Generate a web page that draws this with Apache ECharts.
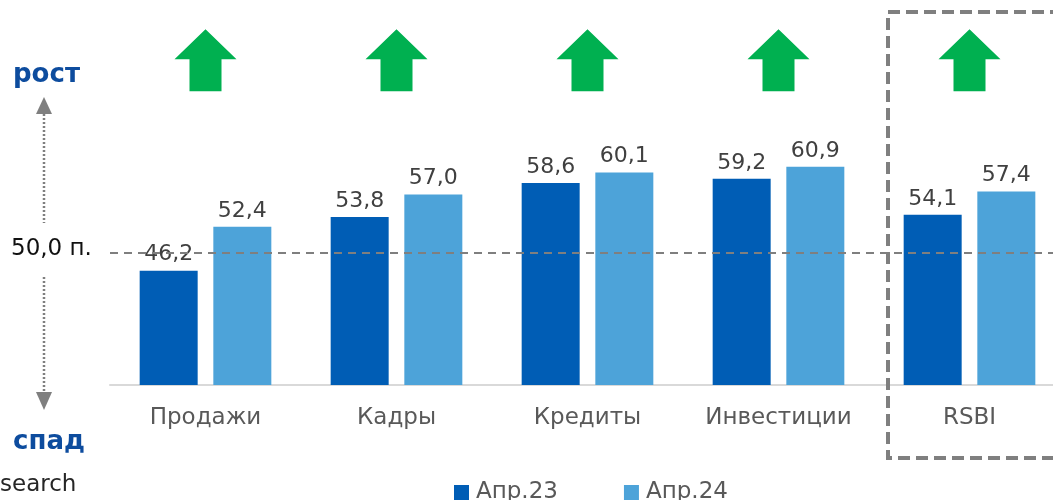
<!DOCTYPE html>
<html>
<head>
<meta charset="utf-8">
<script src="https://cdn.jsdelivr.net/npm/echarts@6/dist/echarts.min.js"></script>
<style>
  html, body { margin: 0; padding: 0; background: #fff; overflow: hidden; }
  /* slightly wider than the window: the picture's last group is cut at the right edge */
  #chart { width: 1065px; height: 500px; }
</style>
</head>
<body>
<div id="chart"></div>
<script>
// RSBI sub-indices, two survey waves
const categories = ["Продажи", "Кадры", "Кредиты", "Инвестиции", "RSBI"];
const seriesNames = ["Апр.23", "Апр.24"];
const apr23 = [46.2, 53.8, 58.6, 59.2, 54.1];
const apr24 = [52.4, 57.0, 60.1, 60.9, 57.4];
// green "growth" arrows above each group (drawn at a fixed level on the value axis)
const arrowLevel = [76, 76, 76, 76, 76];
// threshold line as it sits on the picture (labelled "50,0 п.")
const thresholdLine = 48.8;

const FONT = "DejaVu Sans";
const DARK = "#005DB5";
const LIGHT = "#4DA3D9";
const GREY = "#7f7f7f";
const BLUE_TXT = "#0D4C9E";

const fmt = v => v.toFixed(1).replace(".", ",");

const chart = echarts.init(document.getElementById("chart"), null, { renderer: "canvas" });

const labelStyle = {
    show: true,
    position: "top",
    distance: 5,
    fontFamily: FONT,
    fontSize: 22,
    color: "#404040",
    formatter: p => fmt(p.value)
};

const arrowPath = "path://M31 0 L62 30 L47 30 L47 62 L15 62 L15 30 L0 30 Z";

chart.setOption({
    animation: false,
    backgroundColor: "#fff",
    grid: { left: 110, right: 0, top: 32, bottom: 115, containLabel: false },
    legend: {
        data: seriesNames,
        left: 449,
        top: 476,
        icon: "rect",
        itemWidth: 15,
        itemHeight: 15,
        itemGap: 66,
        textStyle: { fontFamily: FONT, fontSize: 23, color: "#595959", padding: [0, 0, 0, 2] }
    },
    xAxis: {
        type: "category",
        data: categories,
        axisLine: { show: true, lineStyle: { color: "#d9d9d9", width: 2 } },
        axisTick: { show: false },
        axisLabel: { interval: 0, fontFamily: FONT, fontSize: 23, color: "#595959", margin: 22 }
    },
    yAxis: {
        type: "value",
        min: 30,
        max: 80,
        show: false,
        splitLine: { show: false }
    },
    series: [
        {
            name: seriesNames[0],
            type: "bar",
            data: apr23,
            barWidth: 58,
            barGap: "27%",
            itemStyle: { color: DARK },
            label: labelStyle,
            z: 2,
            markLine: {
                silent: true,
                symbol: "none",
                z: 5,
                label: { show: false },
                lineStyle: { color: GREY, width: 2, type: [8, 6] },
                data: [{ yAxis: thresholdLine }]
            }
        },
        {
            name: seriesNames[1],
            type: "bar",
            data: apr24,
            barWidth: 58,
            itemStyle: { color: LIGHT },
            label: labelStyle,
            z: 2
        },
        {
            name: "arrows",
            type: "scatter",
            data: arrowLevel,
            symbol: arrowPath,
            symbolSize: [62, 62],
            itemStyle: { color: "#00B050", opacity: 1 },
            silent: true,
            clip: false,
            z: 3
        }
    ],
    graphic: [
        { type: "text", style: { x: 13, y: 75, text: "рост", fontFamily: FONT, fontSize: 26, fontWeight: "bold", fill: BLUE_TXT, verticalAlign: "middle" } },
        { type: "polygon", shape: { points: [[36, 114], [44, 97], [52, 114]] }, style: { fill: GREY } },
        { type: "line", shape: { x1: 44, y1: 114, x2: 44, y2: 223 }, style: { stroke: GREY, lineWidth: 2.5, lineDash: [2, 2] } },
        { type: "text", style: { x: 11, y: 249, text: "50,0 п.", fontFamily: FONT, fontSize: 23, fill: "#111", verticalAlign: "middle" } },
        { type: "line", shape: { x1: 44, y1: 277, x2: 44, y2: 392 }, style: { stroke: GREY, lineWidth: 2.5, lineDash: [2, 2] } },
        { type: "polygon", shape: { points: [[36, 392], [52, 392], [44, 410]] }, style: { fill: GREY } },
        { type: "text", style: { x: 13, y: 442, text: "спад", fontFamily: FONT, fontSize: 26, fontWeight: "bold", fill: BLUE_TXT, verticalAlign: "middle" } },
        { type: "text", style: { x: 0, y: 485, text: "search", fontFamily: FONT, fontSize: 23, fill: "#262626", verticalAlign: "middle" } },
        { type: "rect", shape: { x: 888, y: 12, width: 220, height: 446 }, style: { fill: "none", stroke: GREY, lineWidth: 4, lineDash: [12, 6] }, z: 10 }
    ]
});
</script>
</body>
</html>
